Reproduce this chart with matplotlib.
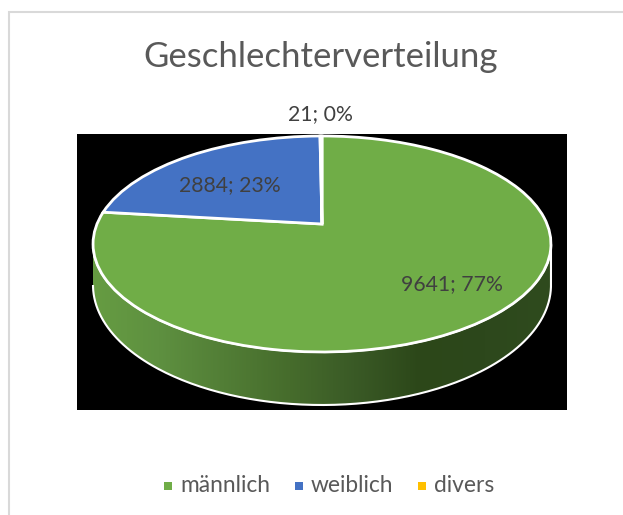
import numpy as np
import matplotlib
matplotlib.use("Agg")
import matplotlib.pyplot as plt
from matplotlib.transforms import Transform
from matplotlib.path import Path
from matplotlib.patches import PathPatch, Rectangle
from matplotlib.colors import LinearSegmentedColormap

categories = ["männlich", "weiblich", "divers"]
values = [9641, 2884, 21]
percents = ["77%", "23%", "0%"]
colors = ["#70AD47", "#4472C4", "#FFC000"]
text_color = "#404040"
label_color = "#595959"

W, H = 623, 515
plt.rcParams["font.family"] = ["Lato", "DejaVu Sans"]
fig = plt.figure(figsize=(W / 100, H / 100), dpi=100, facecolor="white")
ax = fig.add_axes([0, 0, 1, 1])
ax.set_xlim(0, W)
ax.set_ylim(H, 0)
ax.axis("off")


class Tilt(Transform):
    """Perspective view of a unit pie, placed in the pixel frame of the axes."""
    input_dims = output_dims = 2

    def __init__(self, cx, cy, k, a, b, c):
        super().__init__()
        self.p = (cx, cy, k, a, b, c)

    def transform_non_affine(self, xy):
        cx, cy, k, a, b, c = self.p
        xy = np.asarray(xy, float)
        u, v = xy[:, 0], xy[:, 1]
        d = 1 + c * v
        return np.column_stack([cx + k * u / d, cy - (a * v + b) / d])

    def transform_path_non_affine(self, path):
        return Path(self.transform_non_affine(path.vertices), path.codes)


# chart frame (continues past the right and bottom edges) and plot background
ax.add_patch(Rectangle((9, 12), 700, 600, fc="white", ec="#D9D9D9", lw=1.5, zorder=0))
ax.add_patch(Rectangle((77, 134), 490, 276, fc="black", ec="none", zorder=1))

top = Tilt(322, 244, 225, 108, 20, 0.185)

# side wall of the disc, shaded left to right
t = np.linspace(np.pi, 2 * np.pi, 200)
ex, ey = 322 + 229 * np.cos(t), 244 - 108 * np.sin(t)
bx, by = 322 + 229 * np.cos(t), 285 - 120 * np.sin(t)
wall_x = np.r_[ex, bx[::-1]]
wall_y = np.r_[ey, by[::-1]]
wall = PathPatch(Path(np.column_stack([wall_x, wall_y])), fc="none", ec="white", lw=1.5, zorder=2.2)
ax.add_patch(wall)
cmap = LinearSegmentedColormap.from_list(
    "side", ["#669C42", "#5E9040", "#527E36", "#466C2C", "#3A5A26", "#2C4719", "#2D481C", "#2F4B1E"])
img = ax.imshow(np.linspace(0, 1, 256)[None, :], extent=(93, 551, 410, 240), cmap=cmap, aspect="auto", zorder=2)
img.set_clip_path(wall)

# top face: a real pie, projected
wedges, _ = ax.pie(values, colors=colors, startangle=90, counterclock=False, radius=1,
                   wedgeprops=dict(edgecolor="white", linewidth=2), frame=False)
ax.set_xlim(0, W)
ax.set_ylim(H, 0)
ax.set_aspect("auto")
ax.axis("off")
for w in wedges:
    w.set_transform(top + ax.transData)
    w.set_zorder(3)
    w.set_clip_on(False)

ax.text(321, 57, "Geschlechterverteilung", ha="center", va="center", fontsize=25, color=label_color)

label_pos = [(452, 284), (230, 185), (320, 114)]
for v, p, (x, y) in zip(values, percents, label_pos):
    ax.text(x, y, f"{v}; {p}", ha="center", va="center", fontsize=15.3, color=text_color, zorder=5)

legend_sq = [167.5, 299, 422]
legend_tx = [180, 311, 434]
for name, col, sx, tx in zip(categories, colors, legend_sq, legend_tx):
    ax.add_patch(Rectangle((sx - 4, 482), 8, 8, fc=col, ec="none"))
    ax.text(tx, 485.5, name, ha="left", va="center", fontsize=16.4, color=label_color)

fig.savefig("out.png", dpi=100)
